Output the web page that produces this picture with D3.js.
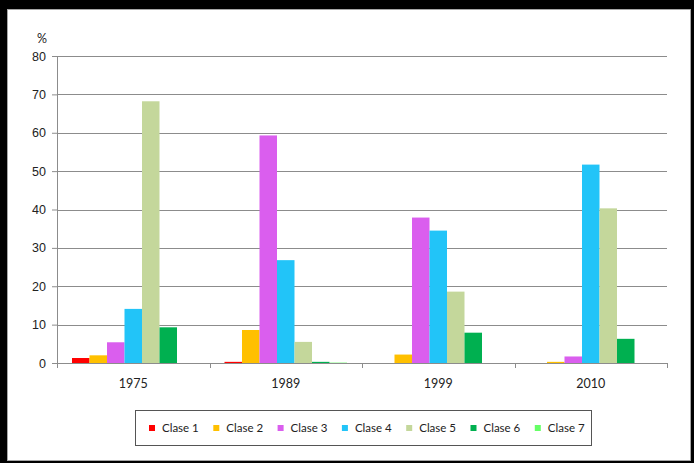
<!DOCTYPE html>
<html>
<head>
<meta charset="utf-8">
<script src="https://cdn.jsdelivr.net/npm/d3@7"></script>
<style>
  body { margin: 0; background: #000; }
  svg { display: block; font-family: Lato, "Open Sans", sans-serif; }
</style>
</head>
<body>
<div id="content"></div>
<script>
var years = ['1975', '1989', '1999', '2010'];
var classes = ['Clase 1', 'Clase 2', 'Clase 3', 'Clase 4', 'Clase 5', 'Clase 6', 'Clase 7'];
var colors = ['#FF0000', '#FFC000', '#DA5EEE', '#22C4F8', '#C4D79B', '#00B050', '#66FF66'];

// one array per year, in class order
var v1975 = [1.3, 2.0, 5.4, 14.1, 68.2, 9.3, 0];
var v1989 = [0.3, 8.6, 59.3, 26.8, 5.5, 0.3, 0.1];
var v1999 = [0, 2.2, 37.9, 34.5, 18.6, 7.9, 0];
var v2010 = [0, 0.3, 1.7, 51.7, 40.3, 6.3, 0];
var yTicks = [0, 10, 20, 30, 40, 50, 60, 70, 80];

var values = [v1975, v1989, v1999, v2010];

var W = 694, H = 463;
var margin = { top: 56, right: 27, bottom: 100, left: 57 };
var width = W - margin.left - margin.right,
    height = H - margin.top - margin.bottom;

var svg = d3.select('#content').append('svg')
    .attr('width', W)
    .attr('height', H);

// black frame + white chart panel
svg.append('rect').attr('width', W).attr('height', H).attr('fill', '#000');
svg.append('rect')
    .attr('x', 7.5).attr('y', 9.5)
    .attr('width', 683).attr('height', 451)
    .attr('fill', '#fff')
    .attr('stroke', '#a6a6a6');

var g = svg.append('g')
    .attr('transform', 'translate(' + margin.left + ',' + margin.top + ')');

var x0 = d3.scaleBand().domain(years).range([0, width]);
var x1 = d3.scaleBand().domain(d3.range(classes.length))
    .range([15, x0.bandwidth() - 15]);
var y = d3.scaleLinear().domain([0, 80]).range([height, 0]);

// gridlines
g.selectAll('.grid').data(yTicks.filter(function(d){ return d > 0; }))
  .enter().append('line')
    .attr('x1', 0).attr('x2', width)
    .attr('y1', function(d){ return Math.round(y(d)) + 0.5; })
    .attr('y2', function(d){ return Math.round(y(d)) + 0.5; })
    .style('stroke', '#8c8c8c');

// bars
var groups = g.selectAll('.grp').data(values)
  .enter().append('g')
    .attr('transform', function(d, i){ return 'translate(' + x0(years[i]) + ',0)'; });

groups.selectAll('rect').data(function(d){ return d; })
  .enter().append('rect')
    .attr('x', function(d, i){ return x1(i); })
    .attr('width', x1.bandwidth())
    .attr('y', function(d){ return y(d); })
    .attr('height', function(d){ return height - y(d); })
    .style('fill', function(d, i){ return colors[i]; });

// y axis
var yAxis = d3.axisLeft(y).tickValues(yTicks).tickSize(5).tickPadding(6);
var yGuide = g.append('g').call(yAxis);
yGuide.selectAll('path').style('stroke', '#8c8c8c');
yGuide.selectAll('line').style('stroke', '#8c8c8c');
yGuide.selectAll('text').style('font-size', '12.5px').style('fill', '#222');

// x axis, ticks between categories
var xGuide = g.append('g').attr('transform', 'translate(0,' + height + ')');
xGuide.append('line')
    .attr('x1', 0).attr('x2', width).attr('y1', 0.5).attr('y2', 0.5)
    .style('stroke', '#8c8c8c');
xGuide.selectAll('.tk').data(d3.range(years.length + 1))
  .enter().append('line')
    .attr('x1', function(d){ return Math.round(d * x0.step()) + 0.5; })
    .attr('x2', function(d){ return Math.round(d * x0.step()) + 0.5; })
    .attr('y1', 0).attr('y2', 5)
    .style('stroke', '#8c8c8c');
xGuide.selectAll('text').data(years)
  .enter().append('text')
    .attr('x', function(d){ return x0(d) + x0.bandwidth() / 2; })
    .attr('y', 25)
    .attr('text-anchor', 'middle')
    .style('font-size', '12.5px')
    .style('fill', '#222')
    .text(function(d){ return d; });

svg.append('text')
    .attr('x', 42).attr('y', 43)
    .attr('text-anchor', 'middle')
    .style('font-size', '12.5px')
    .style('fill', '#222')
    .text('%');

// legend
var legend = svg.append('g');
legend.append('rect')
    .attr('x', 135.5).attr('y', 410.5)
    .attr('width', 456).attr('height', 35)
    .attr('fill', '#fff')
    .attr('stroke', '#555');

var items = legend.selectAll('.item').data(classes)
  .enter().append('g')
    .attr('transform', function(d, i){ return 'translate(' + (149 + i * 64.3) + ',428)'; });
items.append('rect')
    .attr('x', 0).attr('y', -3).attr('width', 6).attr('height', 6)
    .style('fill', function(d, i){ return colors[i]; });
items.append('text')
    .attr('x', 13).attr('y', 4)
    .style('font-size', '11.5px')
    .style('fill', '#222')
    .text(function(d){ return d; });
</script>
</body>
</html>
